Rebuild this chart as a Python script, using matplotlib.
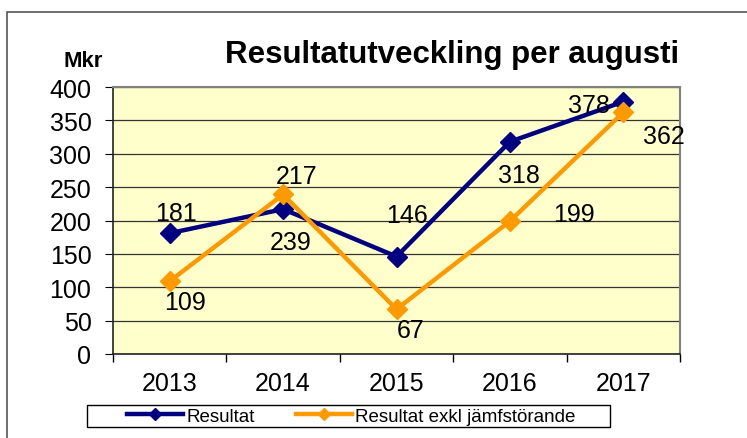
import numpy as np
import matplotlib.pyplot as plt
from matplotlib.patches import Rectangle

# data
years = ['2013', '2014', '2015', '2016', '2017']
resultat = [181, 217, 146, 318, 378]
resultat_exkl = [109, 239, 67, 199, 362]
# label text as written in the chart
lab_blue = ['181', '217', '146', '318', '378']
lab_orange = ['109', '239', '67', '199', '362']

# label offsets (pixels) relative to the point
off_blue = [(6, 20), (13, 33), (11, 42), (9, -33), (-34, -3)]
off_orange = [(15, -21), (8, -48), (14, -21), (64, 7), (41, -24)]

plt.rcParams['font.family'] = ['Liberation Sans', 'DejaVu Sans']

fig = plt.figure(figsize=(7.47, 4.39), dpi=100)
ax = fig.add_axes([113/747, 1-355/439, (680-113)/747, (355-88)/439])
ax.set_facecolor('#FFFFCC')

x = np.arange(len(years))
blue = '#000080'
orange = '#FF9900'
ax.plot(x, resultat, color=blue, lw=3.2, marker='D', ms=10, label='Resultat', zorder=3)
ax.plot(x, resultat_exkl, color=orange, lw=3.2, marker='D', ms=10,
        label='Resultat exkl jämfstörande', zorder=4)

for i in range(len(years)):
    ax.annotate(lab_blue[i], (x[i], resultat[i]), xytext=off_blue[i],
                textcoords='offset pixels', ha='center', va='center', fontsize=18, zorder=5)
    ax.annotate(lab_orange[i], (x[i], resultat_exkl[i]), xytext=off_orange[i],
                textcoords='offset pixels', ha='center', va='center', fontsize=18, zorder=5)

ax.set_xlim(-0.5, 4.5)
ax.set_ylim(0, 400)
ax.set_yticks(np.arange(0, 401, 50))
ax.set_xticks(x)
ax.set_xticklabels(years)
ax.set_xticks(np.arange(-0.5, 5, 1), minor=True)
ax.tick_params(axis='x', which='major', length=0, pad=12, labelsize=18)
ax.tick_params(axis='x', which='minor', length=5.5, direction='out', width=1)
ax.tick_params(axis='y', length=5.5, direction='out', labelsize=18, pad=10)
ax.grid(axis='y', color='#333333', lw=0.9)
ax.set_axisbelow(True)
for s in ['top', 'right']:
    ax.spines[s].set_color('#808080')
    ax.spines[s].set_linewidth(1.5)
for s in ['left', 'bottom']:
    ax.spines[s].set_color('#222222')
    ax.spines[s].set_linewidth(1.2)

fig.text(452/747, 1-63/439, 'Resultatutveckling per augusti', ha='center', va='baseline',
         fontsize=22.5, fontweight='bold')
fig.text(83/747, 1-67/439, 'Mkr', ha='center', va='baseline', fontsize=16, fontweight='bold')

leg = fig.legend(loc='center', bbox_to_anchor=(351/747, 1-417/439), ncol=2, fontsize=13.5,
                 frameon=False, handlelength=3.0, columnspacing=2.2, borderpad=0,
                 handletextpad=0.15, markerscale=0.6)

# legend box and chart border
fig.patches.append(Rectangle((87/747, 1-428/439), (610-87)/747, 22/439, transform=fig.transFigure,
                             fill=False, edgecolor='black', lw=1))
fig.patches.append(Rectangle((7/747, -0.1), 1.2, 1-13/439+0.1, transform=fig.transFigure,
                             fill=False, edgecolor='#555555', lw=1.2))

fig.savefig('out.png', dpi=100)
